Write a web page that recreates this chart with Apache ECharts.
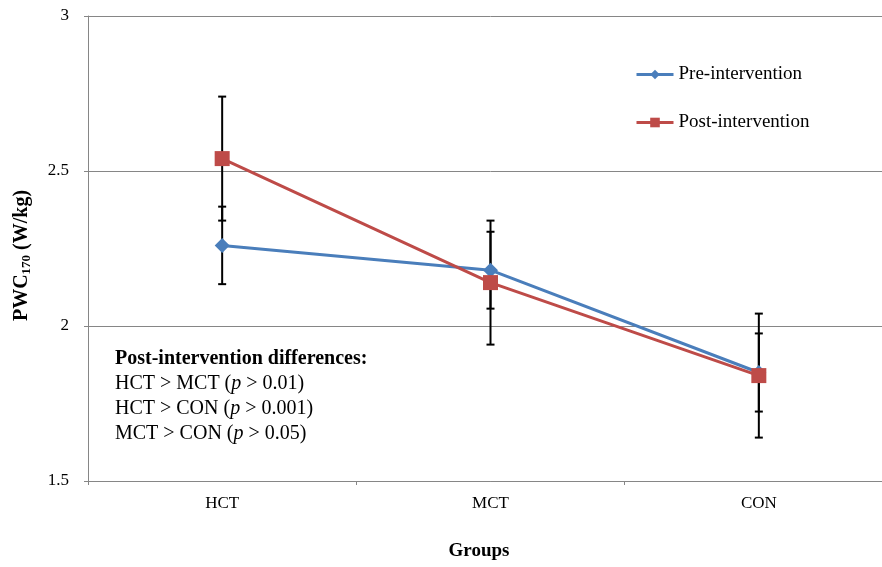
<!DOCTYPE html>
<html>
<head>
<meta charset="utf-8">
<script src="https://cdn.jsdelivr.net/npm/echarts@6/dist/echarts.min.js"></script>
<style>
  html, body { margin: 0; padding: 0; background: #fff; overflow: hidden; }
  /* the plot runs a little past the right edge of the picture */
  #chart { width: 893px; height: 567px; }
</style>
</head>
<body>
<div id="chart"></div>
<script>
// data
const groups = ["HCT", "MCT", "CON"];
const preValues = [2.26, 2.18, 1.85];
const postValues = [2.54, 2.14, 1.84];
const preErrors = [0.125, 0.124, 0.126];
const postErrors = [0.2, 0.2, 0.2];
const yMin = 1.5;
const yMax = 3;
const yStep = 0.5;
const noteTitle = "Post-intervention differences:";
const noteRows = [
  ["HCT > MCT (", "p", " > 0.01)"],
  ["HCT > CON (", "p", " > 0.001)"],
  ["MCT > CON (", "p", " > 0.05)"],
];

const SERIF = "'Liberation Serif', 'DejaVu Serif', serif";
const PRE_COLOR = "#4A7EBB";
const POST_COLOR = "#BE4B48";
const AXIS_GRAY = "#868686";

/** error bars: vertical line + caps, drawn through the axes */
function errorBars(values, errors) {
  return {
    type: "custom",
    z: 1,
    silent: true,
    encode: { x: 0, y: [1, 2] },
    data: values.map((v, i) => [i, v - errors[i], v + errors[i]]),
    renderItem(params, api) {
      const x = api.value(0);
      const lo = api.coord([x, api.value(1)]);
      const hi = api.coord([x, api.value(2)]);
      const half = 4;
      const style = { stroke: "#000", lineWidth: 2 };
      return {
        type: "group",
        children: [
          { type: "line", shape: { x1: lo[0], y1: lo[1], x2: hi[0], y2: hi[1] }, style },
          { type: "line", shape: { x1: lo[0] - half, y1: lo[1], x2: lo[0] + half, y2: lo[1] }, style },
          { type: "line", shape: { x1: hi[0] - half, y1: hi[1], x2: hi[0] + half, y2: hi[1] }, style },
        ],
      };
    },
  };
}

const noteText = ["{b|" + noteTitle + "}"]
  .concat(noteRows.map(([a, p, b]) => "{r|" + a + "}{i|" + p + "}{r|" + b + "}"))
  .join("\n");

const chart = echarts.init(document.getElementById("chart"), null, { renderer: "canvas" });
const option = {
  backgroundColor: "#fff",
  animation: false,
  grid: { left: 88, top: 16, right: 0, bottom: 86, containLabel: false },
  legend: {
    orient: "vertical",
    left: 630,
    top: 60,
    itemWidth: 37,
    itemHeight: 12,
    itemGap: 29,
    data: ["Pre-intervention", "Post-intervention"],
    lineStyle: { width: 3 },
    textStyle: { fontFamily: SERIF, fontSize: 19, color: "#000" },
  },
  xAxis: {
    type: "category",
    data: groups,
    boundaryGap: true,
    name: "Groups",
    nameLocation: "middle",
    nameGap: 61,
    nameTextStyle: { fontFamily: SERIF, fontSize: 19, fontWeight: "bold", color: "#000", padding: [0, 23, 0, 0] },
    axisLine: { lineStyle: { color: AXIS_GRAY, width: 1 } },
    axisTick: { show: true, length: 4, lineStyle: { color: AXIS_GRAY } },
    axisLabel: { fontFamily: SERIF, fontSize: 17, color: "#000", margin: 14 },
    splitLine: { show: false },
  },
  yAxis: {
    type: "value",
    min: yMin,
    max: yMax,
    interval: yStep,
    name: "{b|PWC}{s|170}{b| (W/kg)}",
    nameLocation: "middle",
    nameGap: 55,
    nameTextStyle: {
      padding: [0, 14, 0, 0],
      rich: {
        b: { fontFamily: SERIF, fontSize: 20, fontWeight: "bold", color: "#000", lineHeight: 22 },
        s: { fontFamily: SERIF, fontSize: 13, fontWeight: "bold", color: "#000", lineHeight: 14, verticalAlign: "bottom", padding: [6, 0, 0, 0] },
      },
    },
    axisLine: { show: true, lineStyle: { color: AXIS_GRAY, width: 1 } },
    axisTick: { show: true, length: 4, lineStyle: { color: AXIS_GRAY } },
    axisLabel: { fontFamily: SERIF, fontSize: 17, color: "#000", margin: 19 },
    splitLine: { show: true, lineStyle: { color: AXIS_GRAY, width: 1 } },
  },
  graphic: [
    {
      type: "text",
      left: 115,
      top: 349,
      style: {
        text: noteText,
        rich: {
          b: { fontFamily: SERIF, fontSize: 20, fontWeight: "bold", fill: "#000", lineHeight: 25 },
          r: { fontFamily: SERIF, fontSize: 20, fill: "#000", lineHeight: 25 },
          i: { fontFamily: SERIF, fontSize: 20, fontStyle: "italic", fill: "#000", lineHeight: 25 },
        },
      },
    },
  ],
  series: [
    errorBars(preValues, preErrors),
    errorBars(postValues, postErrors),
    {
      name: "Pre-intervention",
      type: "line",
      z: 3,
      data: preValues,
      symbol: "diamond",
      symbolSize: 15,
      lineStyle: { color: PRE_COLOR, width: 3 },
      itemStyle: { color: PRE_COLOR },
    },
    {
      name: "Post-intervention",
      type: "line",
      z: 4,
      data: postValues,
      symbol: "rect",
      symbolSize: 15,
      lineStyle: { color: POST_COLOR, width: 3 },
      itemStyle: { color: POST_COLOR },
    },
  ],
};
chart.setOption(option);
</script>
</body>
</html>
